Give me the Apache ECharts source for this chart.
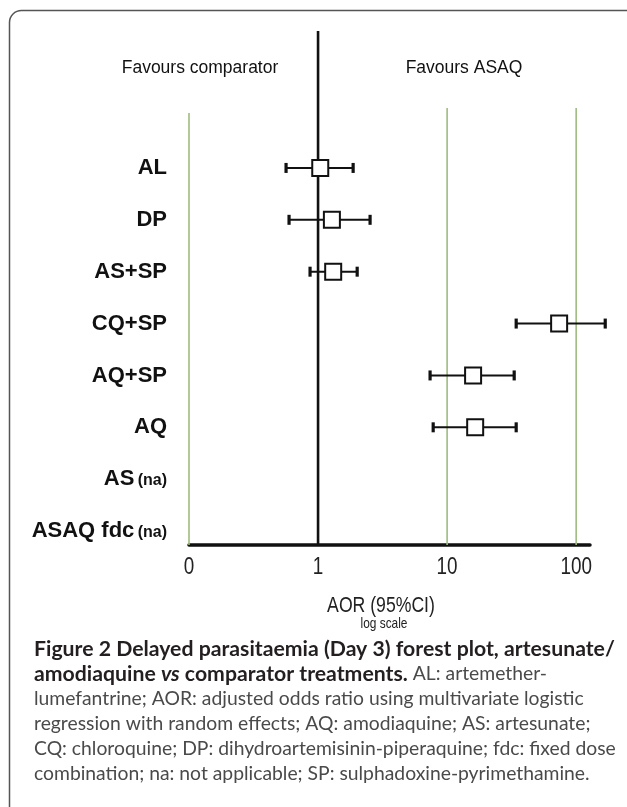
<!DOCTYPE html>
<html><head><meta charset="utf-8">
<script src="https://cdn.jsdelivr.net/npm/echarts@6/dist/echarts.min.js"></script>
<style>html,body{margin:0;padding:0;background:#fff;} #c{width:627px;height:807px;}</style>
</head><body><div id="c"></div>
<script>
// ---- data ----
const categories = ['AL', 'DP', 'AS+SP', 'CQ+SP', 'AQ+SP', 'AQ', 'AS', 'ASAQ fdc'];
const naFlags    = [false, false, false, false, false, false, true, true];
const estimates  = [1.04, 1.28, 1.31, 73.8, 15.9, 16.5, null, null];
const lowerCI    = [0.565, 0.596, 0.867, 34.3, 7.38, 7.8, null, null];
const upperCI    = [1.87, 2.53, 2.01, 168, 33.1, 34.3, null, null];
const tickValues = [0.1, 1, 10, 100];
const tickLabels = ['0', '1', '10', '100'];
const refLineValues = [0.1, 10, 100];   // green reference lines
const nullValue = 1;                     // line of no effect

const captionLines = [
  [{t: 'Figure 2 Delayed parasitaemia (Day 3) forest plot, artesunate/', s: 'b'}],
  [{t: 'amodiaquine ', s: 'b'}, {t: 'vs', s: 'bi'}, {t: ' comparator treatments.', s: 'b'}, {t: ' AL: artemether-', s: 'r'}],
  [{t: 'lumefantrine; AOR: adjusted odds ratio using multivariate logistic', s: 'r'}],
  [{t: 'regression with random effects; AQ: amodiaquine; AS: artesunate;', s: 'r'}],
  [{t: 'CQ: chloroquine; DP: dihydroartemisinin-piperaquine; fdc: fixed dose', s: 'r'}],
  [{t: 'combination; na: not applicable; SP: sulphadoxine-pyrimethamine.', s: 'r'}]
];

// ---- font helpers ----
const ctx = document.createElement('canvas').getContext('2d');
function widthOf(font, text) { ctx.font = font; return ctx.measureText(text).width; }
const probe = 'AOR (95%CI) 100 log scale';
const narrowOK = Math.abs(widthOf("100px 'Liberation Sans Narrow', monospace", probe) - widthOf("100px monospace", probe)) > 1
              && widthOf("100px 'Liberation Sans Narrow', monospace", probe) < 0.9 * widthOf("100px 'Liberation Sans', monospace", probe);
const FONT = "'Liberation Sans', Arial, sans-serif";
const NARROW = narrowOK ? "'Liberation Sans Narrow', 'Liberation Sans', sans-serif" : FONT;
const NARROW_SCALE = narrowOK ? 1 : 0.82;

// ---- chart ----
const chart = echarts.init(document.getElementById('c'), null, {renderer: 'canvas'});
const seriesData = [];
categories.forEach((c, i) => {
  if (estimates[i] != null) seriesData.push([i, estimates[i], lowerCI[i], upperCI[i]]);
});

const GRID_TOP = 142, GRID_H = 415, AXIS_OFFSET = -12;
const tickFormatter = v => {
  const k = tickValues.findIndex(t => Math.abs(Math.log10(v / t)) < 1e-6);
  return k >= 0 ? tickLabels[k] : '';
};

const option = {
  animation: false,
  backgroundColor: '#fff',
  grid: {left: 189, right: 37, top: GRID_TOP, height: GRID_H, containLabel: false},
  xAxis: {
    type: 'log', logBase: 10, min: 0.1, max: 128,
    offset: AXIS_OFFSET,
    axisLine: {show: true, lineStyle: {color: '#111', width: 3.5}},
    axisTick: {show: false},
    splitLine: {show: false},
    axisLabel: {
      show: narrowOK,
      showMaxLabel: false,
      margin: 11,
      fontFamily: NARROW, fontSize: 23, color: '#222',
      formatter: tickFormatter
    }
  },
  yAxis: {
    type: 'category', data: categories, inverse: true,
    axisLine: {show: false}, axisTick: {show: false}, splitLine: {show: false},
    axisLabel: {
      margin: 22,
      formatter: (v, i) => naFlags[i] ? '{b|' + v + '} {na|(na)}' : '{b|' + v + '}',
      rich: {
        b: {fontFamily: FONT, fontSize: 22, fontWeight: 'bold', color: '#111', lineHeight: 26},
        na: {fontFamily: NARROW, fontSize: 16, fontWeight: 'bold', color: '#111', lineHeight: 26, padding: [3, 0, 0, 0]}
      }
    }
  },
  series: [{
    type: 'custom',
    clip: false,
    z: 5,
    encode: {x: [1, 2, 3], y: 0},
    data: seriesData,
    renderItem: (params, api) => {
      const yi = api.value(0);
      const c = api.coord([api.value(1), yi]);
      const l = api.coord([api.value(2), yi]);
      const h = api.coord([api.value(3), yi]);
      const s = 16;
      return {type: 'group', children: [
        {type: 'line', shape: {x1: l[0], y1: c[1], x2: h[0], y2: c[1]}, style: {stroke: '#111', lineWidth: 2}},
        {type: 'rect', shape: {x: l[0] - 1.6, y: c[1] - 5, width: 3.2, height: 10}, style: {fill: '#111'}},
        {type: 'rect', shape: {x: h[0] - 1.6, y: c[1] - 5, width: 3.2, height: 10}, style: {fill: '#111'}},
        {type: 'rect', shape: {x: c[0] - s / 2, y: c[1] - s / 2, width: s, height: s},
         style: {fill: '#fff', stroke: '#111', lineWidth: 2}}
      ]};
    }
  }]
};
chart.setOption(option);

// ---- overlay graphics placed via the axis scale ----
const axisY = GRID_TOP + GRID_H + AXIS_OFFSET;
const gfx = [];
gfx.push({type: 'rect', z: 0, silent: true,
  shape: {x: 9.5, y: 10.5, width: 900, height: 1000, r: 12},
  style: {fill: 'none', stroke: '#555', lineWidth: 1.5}});
refLineValues.forEach(v => {
  const x = chart.convertToPixel({xAxisIndex: 0}, v);
  gfx.push({type: 'line', z: 1, silent: true,
    shape: {x1: x, y1: v < 1 ? 113 : 108, x2: x, y2: axisY},
    style: {stroke: '#9fbb80', lineWidth: 1.6}});
});
const x1 = chart.convertToPixel({xAxisIndex: 0}, nullValue);
gfx.push({type: 'line', z: 1, silent: true,
  shape: {x1: x1, y1: 31, x2: x1, y2: axisY},
  style: {stroke: '#111', lineWidth: 2.6}});

function narrowText(str, x, y, size, color) {
  return {type: 'text', z: 3, x: x, y: y, scaleX: NARROW_SCALE, silent: true,
    style: {text: str, x: 0, y: 0, align: 'center', verticalAlign: 'middle',
      font: size + 'px ' + NARROW, fill: color}};
}
if (!narrowOK) {
  tickValues.forEach((v, k) => {
    gfx.push(narrowText(tickLabels[k], chart.convertToPixel({xAxisIndex: 0}, v), 568, 23, '#222'));
  });
}
gfx.push({type: 'text', z: 3, style: {text: 'Favours comparator', x: 200, y: 68, align: 'center', verticalAlign: 'middle',
  font: "17.5px " + FONT, fill: '#111'}});
gfx.push({type: 'text', z: 3, style: {text: 'Favours ASAQ', x: 464, y: 68, align: 'center', verticalAlign: 'middle',
  font: "17.5px " + FONT, fill: '#111'}});
gfx.push(narrowText('AOR (95%CI)', 381, 606, 21.5, '#222'));
gfx.push(narrowText('log scale', 384, 624, 14.5, '#222'));

// caption (fit to measured widths)
const CAP_FONT = "Lato, 'Open Sans', sans-serif";
function fitSize(text, weight, target) {
  return 100 * target / widthOf(weight + ' 100px ' + CAP_FONT, text);
}
const regSize = fitSize(captionLines[4][0].t, 'normal', 582);
const boldSize = fitSize(captionLines[0][0].t, 'bold', 581);
const styleMap = {
  b: {fontFamily: CAP_FONT, fontWeight: 'bold', fontSize: boldSize, fill: '#231f20'},
  bi: {fontFamily: CAP_FONT, fontWeight: 'bold', fontStyle: 'italic', fontSize: boldSize, fill: '#231f20'},
  r: {fontFamily: CAP_FONT, fontWeight: 'normal', fontSize: regSize, fill: '#4a4a4a'}
};
const capY = [649, 674, 699, 724, 749, 774];
captionLines.forEach((line, li) => {
  const text = line.map(seg => '{' + seg.s + '|' + seg.t + '}').join('');
  gfx.push({type: 'text', z: 3, style: {
    text: text, x: 34, y: capY[li], align: 'left', verticalAlign: 'middle',
    rich: {b: Object.assign({}, styleMap.b), bi: Object.assign({}, styleMap.bi), r: Object.assign({}, styleMap.r)}
  }});
});
chart.setOption({graphic: {elements: gfx}});
</script>
</body></html>
